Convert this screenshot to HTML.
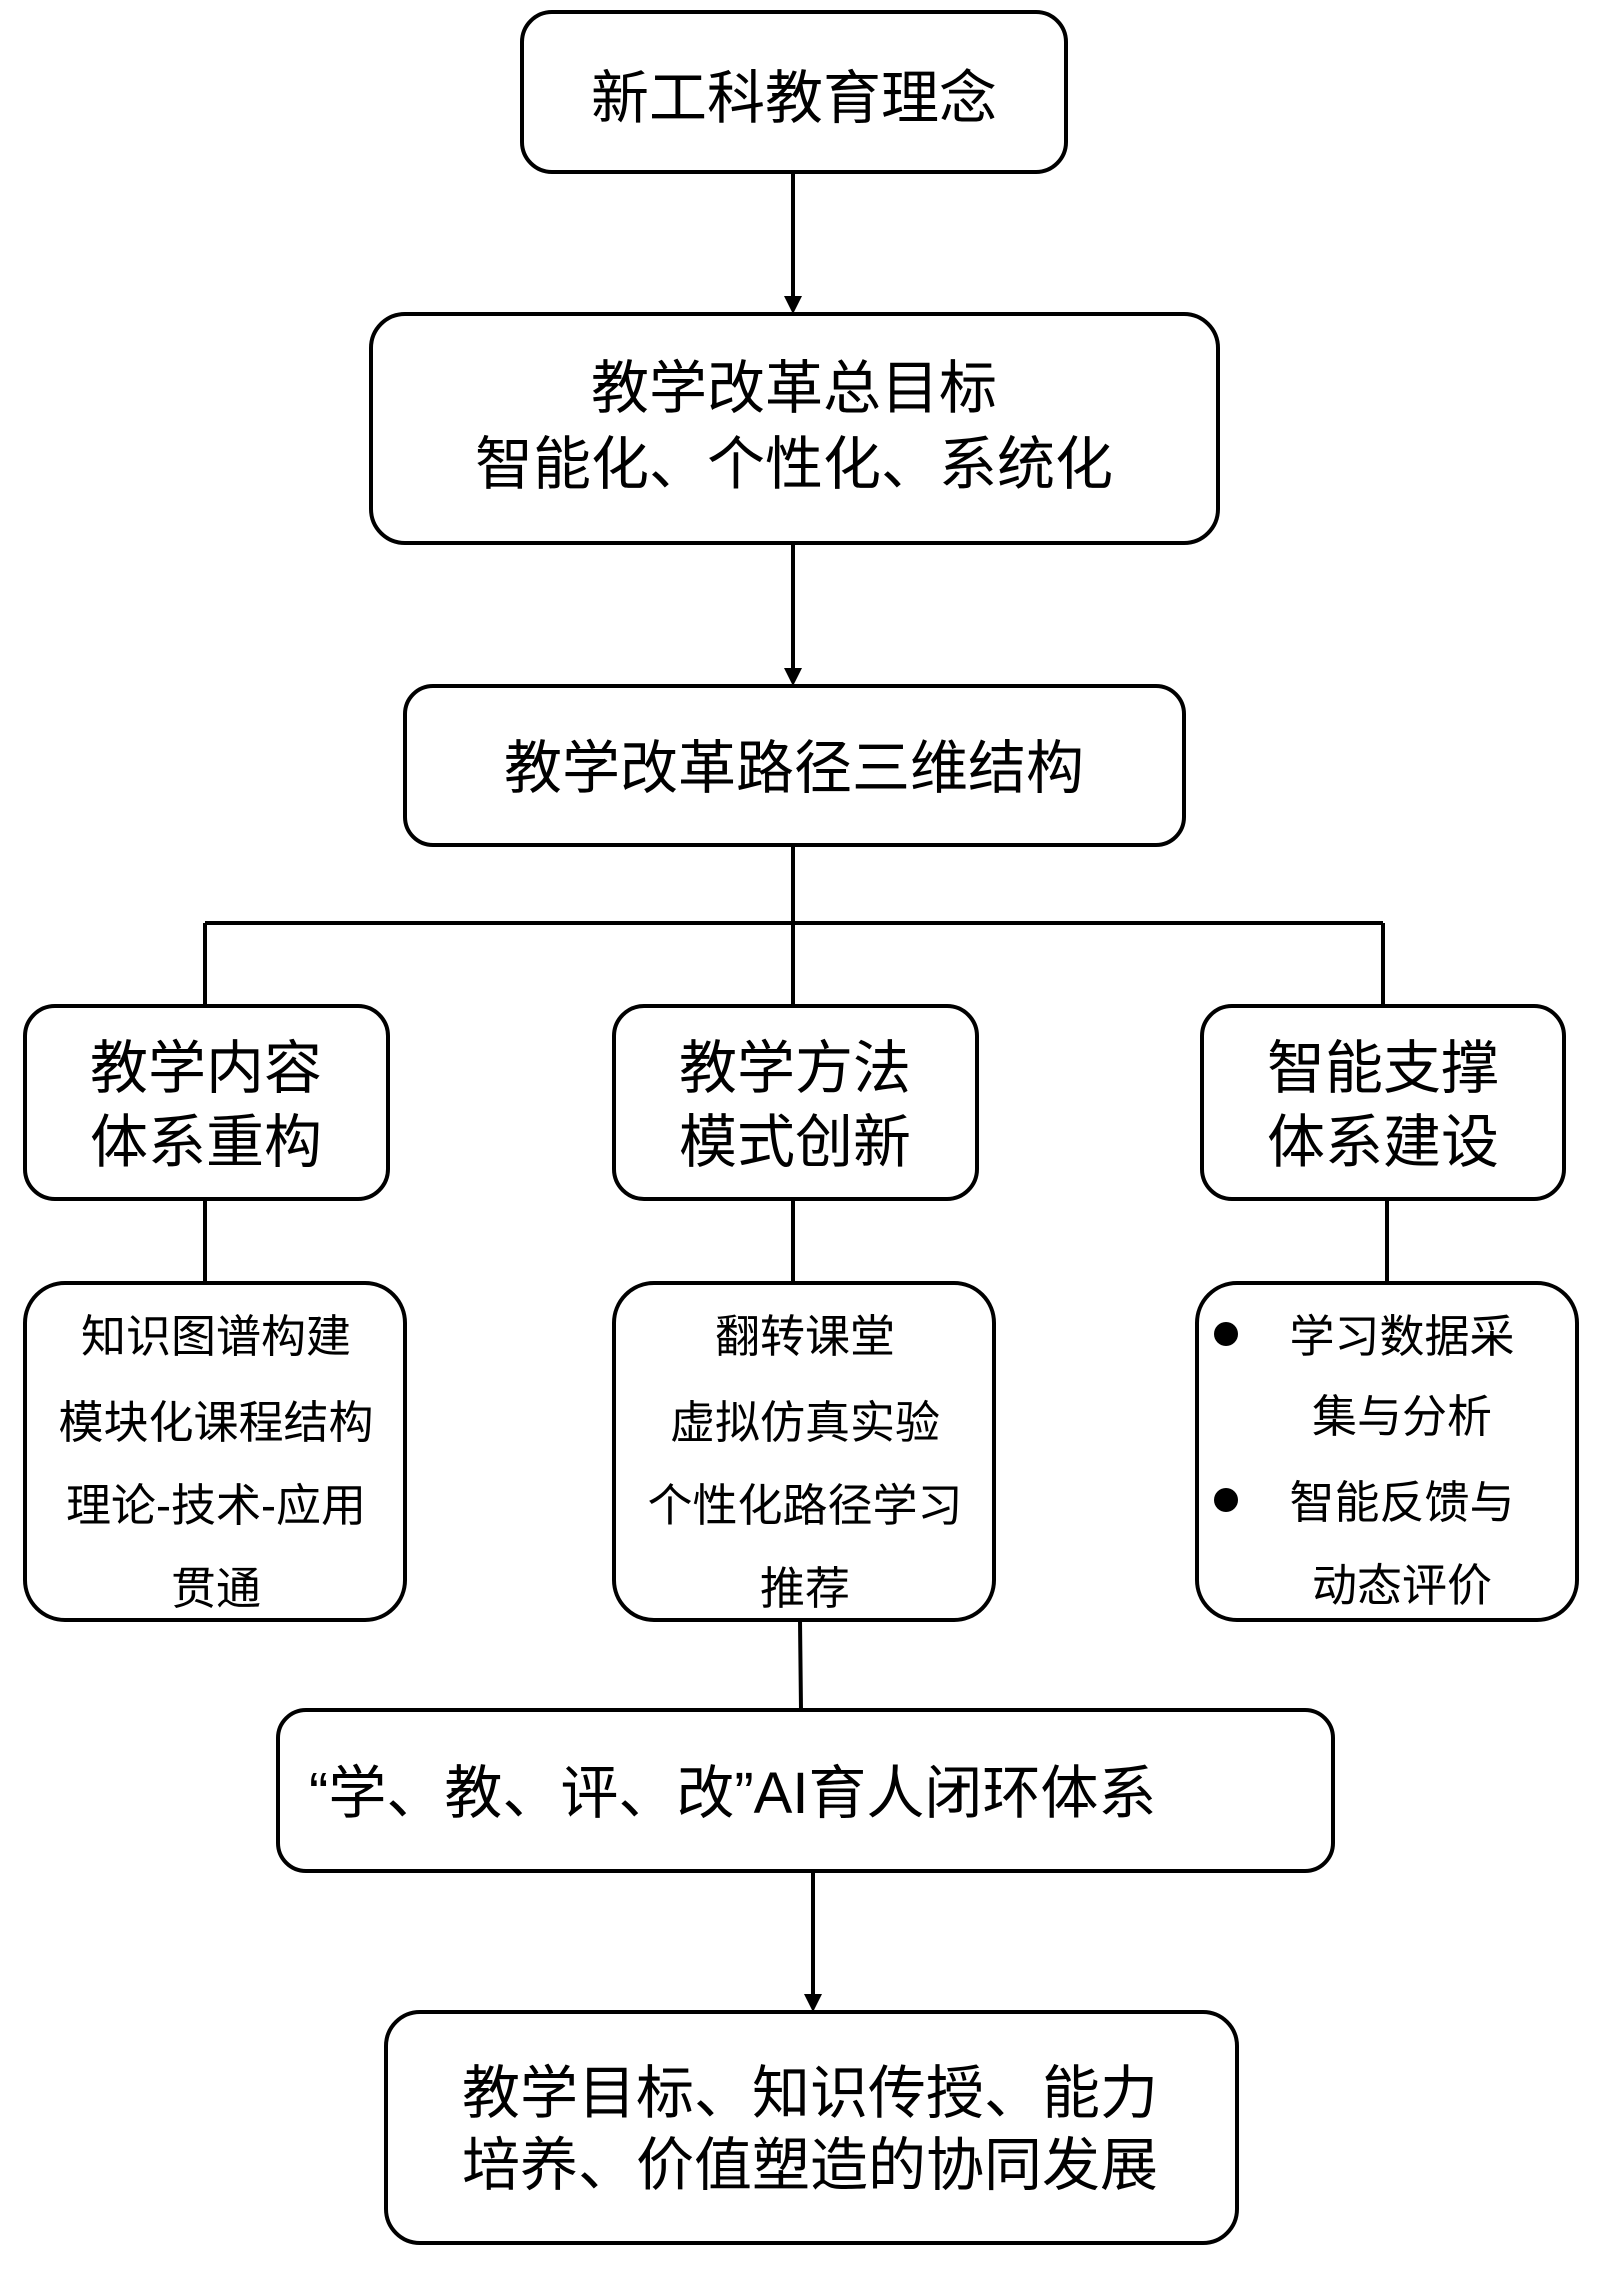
<!DOCTYPE html>
<html><head><meta charset="utf-8"><style>
html,body{margin:0;padding:0;background:#fff;}
svg{display:block;}
text{font-family:"Liberation Sans","Noto Sans CJK SC",sans-serif;fill:#000;}
</style></head><body>
<svg width="1600" height="2272" viewBox="0 0 1600 2272" xmlns="http://www.w3.org/2000/svg">
<defs><marker id="a" markerWidth="10" markerHeight="10" refX="5" refY="9" orient="auto" markerUnits="userSpaceOnUse"><path d="M0,0 L10,0 L5,18 Z" transform="scale(1,0.55)"/></marker></defs>
<g fill="none" stroke="#000" stroke-width="4">
<rect x="522" y="12" width="544" height="160" rx="30"/>
<rect x="371" y="314" width="847" height="229" rx="34"/>
<rect x="405" y="686" width="779" height="159" rx="28"/>
<rect x="25" y="1006" width="363" height="193" rx="30"/>
<rect x="614" y="1006" width="363" height="193" rx="30"/>
<rect x="1202" y="1006" width="362" height="193" rx="30"/>
<rect x="25" y="1283" width="380" height="337" rx="40"/>
<rect x="614" y="1283" width="380" height="337" rx="40"/>
<rect x="1197" y="1283" width="380" height="337" rx="40"/>
<rect x="278" y="1710" width="1055" height="161" rx="28"/>
<rect x="386" y="2012" width="851" height="231" rx="34"/>
<path d="M793 172 V300 M793 543 V672 M793 845 V923 M205 923 H1383 M205 923 V1006 M793 923 V1006 M1383 923 V1006 M205 1199 V1283 M793 1199 V1283 M1387 1199 V1283 M800 1620 L801 1710 M813 1871 V1998"/>
</g>
<path d="M784 296 L802 296 L793 314 Z"/>
<path d="M784 668 L802 668 L793 686 Z"/>
<path d="M804 1994 L822 1994 L813 2012 Z"/>
<g font-size="58" text-anchor="middle">
<text x="794" y="118">新工科教育理念</text>
<text x="794" y="408">教学改革总目标</text>
<text x="794" y="484">智能化、个性化、系统化</text>
<text x="794" y="788">教学改革路径三维结构</text>
<text x="206" y="1088">教学内容</text>
<text x="206" y="1162">体系重构</text>
<text x="795" y="1088">教学方法</text>
<text x="795" y="1162">模式创新</text>
<text x="1383" y="1088">智能支撑</text>
<text x="1383" y="1162">体系建设</text>
<text x="810" y="2113">教学目标、知识传授、能力</text>
<text x="810" y="2185">培养、价值塑造的协同发展</text>
</g>
<text x="309" y="1813" font-size="58">“学、教、评、改”AI育人闭环体系</text>
<g font-size="45" text-anchor="middle">
<text x="216" y="1352">知识图谱构建</text>
<text x="216" y="1438">模块化课程结构</text>
<text x="216" y="1521">理论-技术-应用</text>
<text x="216" y="1604">贯通</text>
<text x="805" y="1352">翻转课堂</text>
<text x="805" y="1438">虚拟仿真实验</text>
<text x="805" y="1521">个性化路径学习</text>
<text x="805" y="1604">推荐</text>
<text x="1402" y="1352">学习数据采</text>
<text x="1402" y="1432">集与分析</text>
<text x="1402" y="1518">智能反馈与</text>
<text x="1402" y="1601">动态评价</text>
</g>
<circle cx="1226" cy="1334" r="12"/>
<circle cx="1226" cy="1500" r="12"/>
</svg>
</body></html>
